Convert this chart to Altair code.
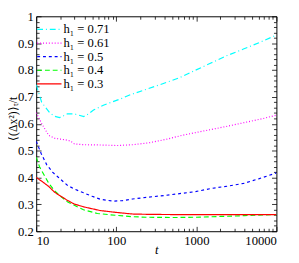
import altair as alt
import pandas as pd

series = ["0.71", "0.61", "0.5", "0.4", "0.3"]
colors = ["#00ffff", "#ff00ff", "#0000ff", "#00ff00", "#ff0000"]
dashes = [[6, 3, 1, 3], [1, 2], [3, 3], [5, 3], [1, 0]]

t_071 = [10, 11.7, 14.8, 17, 19.6, 22, 24.5, 29.7, 34, 39.4, 44, 52, 69, 114, 150, 236, 380, 600, 955, 1520, 2430, 3870, 6200, 10000]
v_071 = [0.745, 0.68, 0.64, 0.628, 0.623, 0.63, 0.637, 0.637, 0.632, 0.627, 0.635, 0.651, 0.669, 0.693, 0.708, 0.728, 0.749, 0.77, 0.798, 0.826, 0.854, 0.878, 0.903, 0.93]

t_061 = [10, 11.8, 14.3, 17, 20, 24.5, 27, 30, 39, 63, 102, 160, 255, 420, 666, 1050, 1680, 2650, 4200, 6500, 10000]
v_061 = [0.641, 0.599, 0.557, 0.546, 0.543, 0.539, 0.535, 0.525, 0.522, 0.521, 0.519, 0.522, 0.529, 0.542, 0.557, 0.569, 0.581, 0.593, 0.606, 0.618, 0.632]

t_05 = [10, 11.5, 13.5, 16, 19, 24.5, 30, 39, 50, 63, 91, 120, 160, 236, 400, 955, 1600, 2500, 3900, 6000, 10000]
v_05 = [0.535, 0.49, 0.448, 0.42, 0.40, 0.371, 0.357, 0.343, 0.33, 0.319, 0.312, 0.314, 0.32, 0.326, 0.333, 0.347, 0.36, 0.368, 0.378, 0.395, 0.417]

t_04 = [10, 11, 12.5, 14.4, 17, 19.6, 24.5, 33, 39, 58, 100, 160, 236, 500, 1000, 2000, 4000, 10000]
v_04 = [0.476, 0.44, 0.41, 0.378, 0.35, 0.333, 0.31, 0.29, 0.28, 0.266, 0.259, 0.254, 0.252, 0.251, 0.252, 0.255, 0.258, 0.262]

t_03 = [10, 12, 14.4, 17, 19.6, 24.5, 30, 40, 63, 100, 160, 236, 500, 1000, 3000, 10000]
v_03 = [0.40, 0.384, 0.366, 0.345, 0.333, 0.315, 0.301, 0.29, 0.277, 0.27, 0.264, 0.263, 0.262, 0.262, 0.262, 0.262]

x_major = [10, 100, 1000, 10000]
x_minor = [20, 30, 40, 50, 60, 70, 80, 90, 200, 300, 400, 500, 600, 700, 800, 900,
           2000, 3000, 4000, 5000, 6000, 7000, 8000, 9000]
y_major = [0.2, 0.3, 0.4, 0.5, 0.6, 0.7, 0.8, 0.9, 1.0]
y_minor = [0.22, 0.24, 0.26, 0.28, 0.32, 0.34, 0.36, 0.38, 0.42, 0.44, 0.46, 0.48,
           0.52, 0.54, 0.56, 0.58, 0.62, 0.64, 0.66, 0.68, 0.72, 0.74, 0.76, 0.78,
           0.82, 0.84, 0.86, 0.88, 0.92, 0.94, 0.96, 0.98]

rows = []
for h, ts, vs in zip(series, [t_071, t_061, t_05, t_04, t_03], [v_071, v_061, v_05, v_04, v_03]):
    for t, v in zip(ts, vs):
        rows.append({"h": h, "t": t, "v": v})
df = pd.DataFrame(rows)

FONT = "Liberation Serif"
xscale = alt.Scale(type="log", domain=[10, 10000], nice=False)
yscale = alt.Scale(domain=[0.2, 1.0], nice=False, zero=False)

legend_kw = dict(title=None, orient="top-left", offset=6, padding=1,
                 symbolType="M-2.5,0H2.5", symbolSize=100, symbolStrokeWidth=1.2,
                 labelFont=FONT, labelFontSize=13, labelColor="black",
                 labelExpr="'h₁ = ' + datum.label", rowPadding=-2, labelOffset=8)

lines = alt.Chart(df).mark_line(strokeWidth=1.2, clip=True).encode(
    x=alt.X("t:Q", scale=xscale, axis=alt.Axis(
        values=x_major, format="d", ticks=False, domain=False, grid=False,
        labelFont=FONT, labelFontSize=13, labelColor="black", labelPadding=4,
        title="t", titleFont=FONT, titleFontSize=13, titleFontStyle="italic",
        titleFontWeight="normal", titleColor="black", titleY=13, titleBaseline="top")),
    y=alt.Y("v:Q", scale=yscale, axis=alt.Axis(
        values=y_major, labelExpr="datum.value == 1 ? '1' : format(datum.value, '.1f')",
        ticks=False, domain=False, grid=False,
        labelFont=FONT, labelFontSize=13, labelColor="black", labelPadding=3,
        title="⟨(Δx²)⟩ₜ/t", titleFont=FONT, titleFontSize=12,
        titleFontWeight="normal", titleColor="black",
        titleX=-24, titleY=105, titleBaseline="middle")),
    color=alt.Color("h:N", scale=alt.Scale(domain=series, range=colors),
                    legend=alt.Legend(**legend_kw)),
    strokeDash=alt.StrokeDash("h:N", scale=alt.Scale(domain=series, range=dashes),
                              legend=alt.Legend(**legend_kw)),
)


def tick_layer(xorient, yorient, xvals, yvals, size):
    return alt.Chart(df).mark_point(opacity=0).encode(
        x=alt.X("t:Q", scale=xscale, title=None, axis=alt.Axis(
            orient=xorient, values=xvals, labels=False, domain=False, grid=False,
            ticks=True, tickSize=size, offset=-size, tickColor="black", tickWidth=0.8)),
        y=alt.Y("v:Q", scale=yscale, title=None, axis=alt.Axis(
            orient=yorient, values=yvals, labels=False, domain=False, grid=False,
            ticks=True, tickSize=size, offset=-size, tickColor="black", tickWidth=0.8)),
    )


chart = alt.layer(
    lines,
    tick_layer("bottom", "left", x_major, y_major, 5),
    tick_layer("bottom", "left", x_minor, y_minor, 3),
    tick_layer("top", "right", x_major, y_major, 5),
    tick_layer("top", "right", x_minor, y_minor, 3),
).resolve_axis(x="independent", y="independent").properties(
    width=247, height=221,
    autosize=alt.AutoSizeParams(type="none"),
    padding={"left": 29, "top": 5, "right": 15, "bottom": 24},
).configure_view(stroke="black", strokeWidth=1)

chart.save("out.html", embed_options={"renderer": "svg", "actions": False})
